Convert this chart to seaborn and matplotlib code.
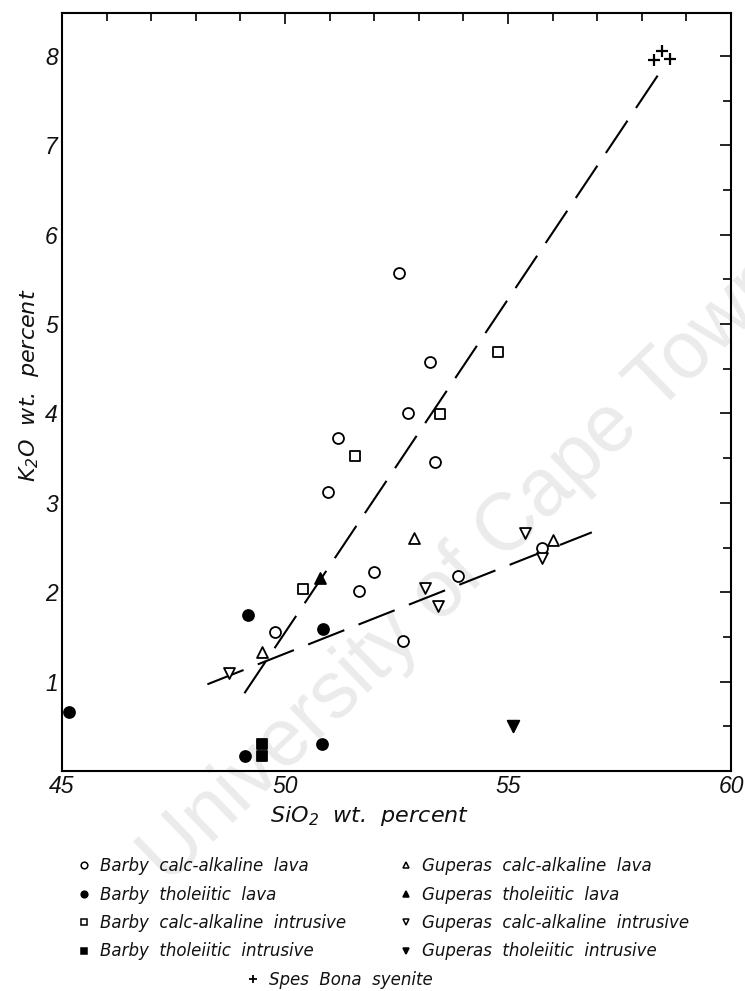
import matplotlib
matplotlib.use("Agg")
import matplotlib.pyplot as plt
import seaborn as sns
import pandas as pd
from matplotlib.lines import Line2D
from matplotlib.ticker import MultipleLocator

sns.set_theme(style="white")
plt.rcParams["font.family"] = ["Liberation Sans", "DejaVu Sans"]
plt.rcParams["mathtext.fontset"] = "custom"
plt.rcParams["mathtext.rm"] = "DejaVu Sans:oblique"
plt.rcParams["mathtext.it"] = "DejaVu Sans:oblique"
plt.rcParams["lines.scale_dashes"] = False

# ---------------- data ----------------
barby_ca_lava_x = [52.56, 53.24, 51.18, 50.96, 51.99, 51.65, 49.78, 52.75, 53.36, 53.89, 52.65, 55.76]
barby_ca_lava_y = [5.57, 4.58, 3.72, 3.12, 2.23, 2.01, 1.55, 4.01, 3.46, 2.18, 1.45, 2.50]

barby_th_lava_x = [49.16, 50.85, 45.15, 50.82, 49.10]
barby_th_lava_y = [1.74, 1.59, 0.66, 0.30, 0.17]

barby_ca_intr_x = [51.58, 50.41, 54.77, 53.47]
barby_ca_intr_y = [3.52, 2.04, 4.69, 3.99]

barby_th_intr_x = [49.48, 49.48]
barby_th_intr_y = [0.30, 0.17]

guperas_ca_lava_x = [49.48, 52.90, 56.02]
guperas_ca_lava_y = [1.33, 2.61, 2.58]

guperas_th_lava_x = [50.78]
guperas_th_lava_y = [2.16]

guperas_ca_intr_x = [48.75, 53.14, 53.44, 55.37, 55.76]
guperas_ca_intr_y = [1.10, 2.05, 1.85, 2.66, 2.38]

guperas_th_intr_x = [55.12]
guperas_th_intr_y = [0.50]

spes_bona_x = [58.28, 58.45, 58.63]
spes_bona_y = [7.95, 8.05, 7.96]

trend_steep_x = [49.09, 58.45]
trend_steep_y = [0.87, 7.85]
trend_shallow_x = [48.26, 56.88]
trend_shallow_y = [0.97, 2.67]

x_tick_labels = [45, 50, 55, 60]
y_tick_labels = [1, 2, 3, 4, 5, 6, 7, 8]

series = [
    ("Barby calc-alkaline lava", barby_ca_lava_x, barby_ca_lava_y),
    ("Barby tholeiitic lava", barby_th_lava_x, barby_th_lava_y),
    ("Barby calc-alkaline intrusive", barby_ca_intr_x, barby_ca_intr_y),
    ("Barby tholeiitic intrusive", barby_th_intr_x, barby_th_intr_y),
    ("Guperas calc-alkaline lava", guperas_ca_lava_x, guperas_ca_lava_y),
    ("Guperas tholeiitic lava", guperas_th_lava_x, guperas_th_lava_y),
    ("Guperas calc-alkaline intrusive", guperas_ca_intr_x, guperas_ca_intr_y),
    ("Guperas tholeiitic intrusive", guperas_th_intr_x, guperas_th_intr_y),
    ("Spes Bona syenite", spes_bona_x, spes_bona_y),
]
df = pd.concat(
    [pd.DataFrame({"SiO2": xs, "K2O": ys, "group": name}) for name, xs, ys in series],
    ignore_index=True,
)

styles = {
    "Barby calc-alkaline lava": ("o", False, 62),
    "Barby tholeiitic lava": ("o", True, 62),
    "Barby calc-alkaline intrusive": ("s", False, 50),
    "Barby tholeiitic intrusive": ("s", True, 50),
    "Guperas calc-alkaline lava": ("^", False, 62),
    "Guperas tholeiitic lava": ("^", True, 62),
    "Guperas calc-alkaline intrusive": ("v", False, 62),
    "Guperas tholeiitic intrusive": ("v", True, 70),
    "Spes Bona syenite": ("+", True, 80),
}

# ---------------- figure ----------------
fig = plt.figure(figsize=(7.45, 9.91), dpi=100)
fig.patch.set_facecolor("white")
ax = fig.add_axes([62 / 745, 220 / 991, 669 / 745, 758 / 991])
ax.set_facecolor("none")

# watermark
fig.text(465 / 745, 1 - 570 / 991, "University of Cape Town", rotation=44,
         rotation_mode="anchor", ha="center", va="center",
         fontsize=58, color="#ebebeb", zorder=-5, family="Liberation Sans")

# trend lines
for xs, ys in [(trend_steep_x, trend_steep_y), (trend_shallow_x, trend_shallow_y)]:
    sns.lineplot(x=xs, y=ys, ax=ax, color="black", linewidth=1.5,
                 linestyle=(0, (28, 11)), zorder=2)

for name, _, _ in series:
    marker, filled, size = styles[name]
    sub = df[df["group"] == name]
    if marker == "+":
        sns.scatterplot(data=sub, x="SiO2", y="K2O", marker="+", s=size,
                        color="black", linewidth=1.6, ax=ax, legend=False, zorder=3)
    else:
        sns.scatterplot(data=sub, x="SiO2", y="K2O", marker=marker, s=size,
                        facecolor="black" if filled else "white",
                        edgecolor="black", linewidth=1.3, ax=ax, legend=False, zorder=3)

ax.set_xlim(45, 60)
ax.set_ylim(0, 8.48)
ax.set_xticks(x_tick_labels)
ax.set_xticklabels([str(v) for v in x_tick_labels])
ax.set_yticks(y_tick_labels)
ax.set_yticklabels([str(v) for v in y_tick_labels])
ax.xaxis.set_minor_locator(MultipleLocator(1))
ax.yaxis.set_minor_locator(MultipleLocator(0.5))
ax.tick_params(which="both", direction="in", top=True, right=True,
               color="black", width=1.2, labelcolor="#111111")
ax.tick_params(which="major", length=8)
ax.tick_params(which="minor", length=6)
ax.tick_params(axis="y", which="major", pad=3, labelsize=16.5)
ax.tick_params(axis="x", which="major", pad=3, labelsize=16.5)
for lbl in ax.get_xticklabels() + ax.get_yticklabels():
    lbl.set_style("italic")
for sp in ax.spines.values():
    sp.set_color("black")
    sp.set_linewidth(1.5)
    sp.set_visible(True)

ax.set_xlabel("SiO$_2$  wt.  percent", fontsize=16, style="italic",
              family="DejaVu Sans", color="#111111")
ax.set_ylabel("K$_2$O  wt.  percent", fontsize=16, style="italic",
              family="DejaVu Sans", color="#111111")
ax.xaxis.set_label_coords(0.46, -0.044)
ax.yaxis.set_label_coords(-0.032, 0.509)

# ---------------- legend ----------------
def handle(name):
    marker, filled, _ = styles[name]
    if marker == "+":
        return Line2D([], [], linestyle="none", marker="+", markersize=6,
                      color="black", markeredgewidth=1.3)
    return Line2D([], [], linestyle="none", marker=marker, markersize=4.8,
                  markerfacecolor="black" if filled else "white",
                  markeredgecolor="black", markeredgewidth=1.1)

names = [s[0] for s in series]
legkw = dict(frameon=False, handlelength=0.8, handletextpad=0.6,
             labelspacing=0.63, borderpad=0, borderaxespad=0, loc="upper left",
             prop={"style": "italic", "size": 12, "family": "DejaVu Sans"})
for cols, anchor in [(names[0:4], (77 / 745, 1 - 857 / 991)),
                     (names[4:8], (399 / 745, 1 - 857 / 991)),
                     (names[8:9], (246 / 745, 1 - 971 / 991))]:
    labels = [n.replace(" ", "  ") for n in cols]
    leg = fig.legend([handle(n) for n in cols], labels, bbox_to_anchor=anchor, **legkw)
    for t in leg.get_texts():
        t.set_color("#111111")

fig.savefig("out.png", dpi=100)
